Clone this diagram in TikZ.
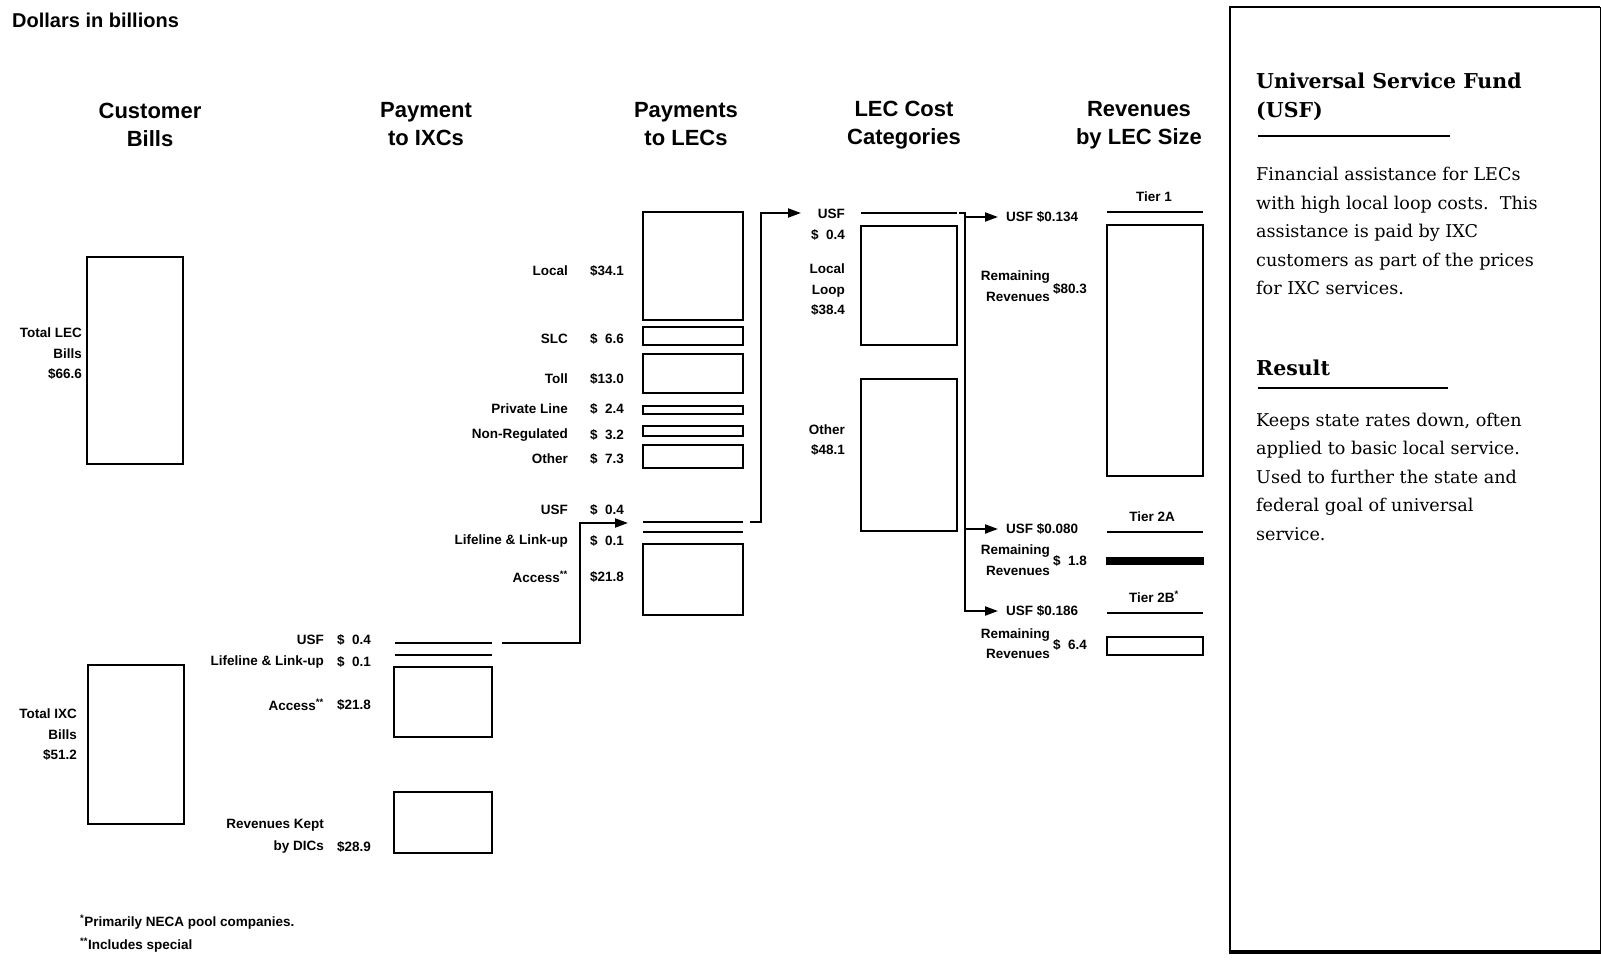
\documentclass[tikz,border=0pt]{standalone}
\usepackage{fontspec}
\setmainfont{Liberation Sans}
\newfontfamily\notefont{DejaVu Serif}
\usetikzlibrary{arrows.meta}

\newcommand{\lblfont}{\bfseries\fontsize{13.5}{20.5}\selectfont}
\newcommand{\hdrfont}{\bfseries\fontsize{22}{28}\selectfont}
\newcommand{\dsp}{\hphantom{0}}

\begin{document}
\begin{tikzpicture}[x=1pt, y=-1pt,
    hdr/.style={font=\hdrfont, align=center, inner sep=0pt},
    lbl/.style={font=\lblfont, align=right, anchor=east, inner sep=0pt},
    val/.style={font=\lblfont, anchor=west, inner sep=0pt},
    tier/.style={font=\lblfont, inner sep=0pt},
    bar/.style={draw, line width=2.6pt, inner sep=0pt, minimum width=96pt},
    rule/.style={line width=2.6pt},
    flow/.style={line width=2pt, -{Triangle[length=13pt,width=9pt]}},
    notehead/.style={font=\notefont\bfseries\fontsize{20.5}{29}\selectfont, align=left, anchor=west, inner sep=0pt},
    notebody/.style={font=\notefont\fontsize{17.6}{28.5}\selectfont, align=left, anchor=west, inner sep=0pt}]

    \useasboundingbox (0,0) rectangle (1601,959);

    % Title and column heads
    \node[font=\bfseries\fontsize{20}{24}\selectfont, anchor=west, inner sep=0pt] (unit) at (12,20) {Dollars in billions};
    \node[hdr] (hbills) at (150,125) {Customer\\Bills};
    \node[hdr] (hixc)   at (426,124) {Payment\\to IXCs};
    \node[hdr] (hlec)   at (686,124) {Payments\\to LECs};
    \node[hdr] (hcost)  at (904,125) {LEC Cost\\Categories};
    \node[hdr] (hsize)  at (1139,125) {Revenues\\by LEC Size};

    % Customer bills
    \node[bar, minimum height=207pt] (lecbill) at (135,360.5) {};
    \node[lbl] (lecbilltxt) at (82,354) {Total LEC\\Bills\\\$66.6};
    \node[bar, minimum height=159pt] (ixcbill) at (136,744.5) {};
    \node[lbl] (ixcbilltxt) at (77,735) {Total IXC\\Bills\\\$51.2};

    % Payment to IXCs
    \coordinate (ixcusfL) at (395,643);
    \coordinate (ixcusfR) at (492,643);
    \draw[rule] (ixcusfL) -- (ixcusfR);
    \draw[rule] (395,655) -- (492,655);
    \node[bar, minimum width=98pt, minimum height=70pt] (ixcacc) at (443,702) {};
    \node[bar, minimum width=98pt, minimum height=61pt] (kept) at (443,822.5) {};
    \node[lbl] (ixcusftxt)  at (324,640) {USF};
    \node[lbl] (ixclifetxt) at (324,662) {Lifeline \& Link-up};
    \node[lbl] (ixcacctxt)  at (324,705) {Access\textsuperscript{**}};
    \node[lbl, font=\bfseries\fontsize{13.5}{22}\selectfont] (kepttxt) at (324,836) {Revenues Kept\\by DICs};
    \node[val] (ixcusfval)  at (337,640) {\$\dsp0.4};
    \node[val] (ixclifeval) at (337,662) {\$\dsp0.1};
    \node[val] (ixcaccval)  at (337,705) {\$21.8};
    \node[val] (keptval)    at (337,847) {\$28.9};

    % Payments to LECs
    \node[bar, minimum width=100pt, minimum height=108pt] (local)  at (693,266) {};
    \node[bar, minimum width=100pt, minimum height=18pt]  (slc)    at (693,336) {};
    \node[bar, minimum width=100pt, minimum height=39pt]  (toll)   at (693,373.5) {};
    \node[bar, minimum width=100pt, minimum height=8pt]   (pline)  at (693,410) {};
    \node[bar, minimum width=100pt, minimum height=10pt]  (nonreg) at (693,431) {};
    \node[bar, minimum width=100pt, minimum height=23pt]  (other)  at (693,456.5) {};
    \coordinate (lecusfL) at (643,522);
    \coordinate (lecusfR) at (743,522);
    \draw[rule] (lecusfL) -- (lecusfR);
    \draw[rule] (643,532) -- (743,532);
    \node[bar, minimum width=100pt, minimum height=71pt]  (lecacc) at (693,579.5) {};

    \node[lbl] (localtxt)  at (568,271) {Local};
    \node[lbl] (slctxt)    at (568,339) {SLC};
    \node[lbl] (tolltxt)   at (568,379) {Toll};
    \node[lbl] (plinetxt)  at (568,409) {Private Line};
    \node[lbl] (nonregtxt) at (568,435) {Non-Regulated};
    \node[lbl] (othertxt)  at (568,459) {Other};
    \node[lbl] (lecusftxt) at (568,510) {USF};
    \node[lbl] (leclifetxt) at (568,541) {Lifeline \& Link-up};
    \node[lbl] (lecacctxt) at (568,577) {Access\textsuperscript{**}};

    \node[val] (localval)  at (590,271) {\$34.1};
    \node[val] (slcval)    at (590,339) {\$\dsp6.6};
    \node[val] (tollval)   at (590,379) {\$13.0};
    \node[val] (plineval)  at (590,409) {\$\dsp2.4};
    \node[val] (nonregval) at (590,435) {\$\dsp3.2};
    \node[val] (otherval)  at (590,459) {\$\dsp7.3};
    \node[val] (lecusfval) at (590,510) {\$\dsp0.4};
    \node[val] (leclifeval) at (590,541) {\$\dsp0.1};
    \node[val] (lecaccval) at (590,577) {\$21.8};

    % LEC cost categories
    \coordinate (cusfL) at (861,213);
    \coordinate (cusfR) at (957,213);
    \draw[rule] (cusfL) -- (cusfR);
    \node[bar, minimum height=119pt] (loop)      at (909,285.5) {};
    \node[bar, minimum height=152pt] (othercost) at (909,455) {};
    \node[lbl] (cusftxt)      at (845,225) {USF\\\$\dsp0.4};
    \node[lbl] (looptxt)      at (845,290) {Local\\Loop\\\$38.4};
    \node[lbl] (othercosttxt) at (845,440) {Other\\\$48.1};

    % Revenues by LEC size
    \node[tier] (tier1) at (1154,197) {Tier 1};
    \draw[rule] (1107,212) -- (1203,212);
    \node[bar, minimum height=251pt] (t1box) at (1155,350.5) {};
    \node[val] (t1usf) at (1006,217) {USF \$0.134};
    \node[lbl, font=\bfseries\fontsize{13.5}{21}\selectfont] (t1rem) at (1050,286.5) {Remaining\\Revenues};
    \node[val] (t1val) at (1053,289) {\$80.3};

    \node[tier] (tier2a) at (1152,517) {Tier 2A};
    \draw[rule] (1107,532) -- (1203,532);
    \node[bar, fill, minimum height=5pt] (t2abar) at (1155,561) {};
    \node[val] (t2ausf) at (1006,529) {USF \$0.080};
    \node[lbl, font=\bfseries\fontsize{13.5}{21}\selectfont] (t2arem) at (1050,560) {Remaining\\Revenues};
    \node[val] (t2aval) at (1053,561) {\$\dsp1.8};

    \node[tier] (tier2b) at (1154,597) {Tier 2B\textsuperscript{*}};
    \draw[rule] (1107,613) -- (1203,613);
    \node[bar, minimum height=18pt] (t2bbox) at (1155,646) {};
    \node[val] (t2busf) at (1006,611) {USF \$0.186};
    \node[lbl, font=\bfseries\fontsize{13.5}{20}\selectfont] (t2brem) at (1050,644) {Remaining\\Revenues};
    \node[val] (t2bval) at (1053,645) {\$\dsp6.4};

    % Flows
    \coordinate (tip1) at (628,523);
    \coordinate (tip2) at (801,213);
    \coordinate (trunk) at (965,213);
    \coordinate (tip3) at (998,217);
    \coordinate (tip4) at (998,529);
    \coordinate (tip5) at (998,611);
    \draw[flow] ([xshift=10pt]ixcusfR) -| ([xshift=-48pt]tip1) -- (tip1);
    \draw[flow] ([xshift=7pt]lecusfR) -| ([xshift=-40pt]tip2) -- (tip2);
    \draw[flow] ([xshift=2pt]cusfR) -| (tip5 -| trunk) -- (tip5);
    \draw[flow] (tip3 -| trunk) -- (tip3);
    \draw[flow] (tip4 -| trunk) -- (tip4);

    % Footnotes
    \node[val] (note1) at (80,922) {\textsuperscript{*}Primarily NECA pool companies.};
    \node[val] (note2) at (80,945) {\textsuperscript{**}Includes special};

    % Side panel
    \draw[line width=2.6pt] (1600,7) -- (1230,7) -- (1230,952);
    \draw[line width=3.6pt] (1228.7,952) -- (1601,952);
    \draw[line width=1pt] (1600,7) -- (1600,952);
    \node[notehead] (usfhead) at (1256,96.5) {Universal Service Fund\\(USF)};
    \draw[line width=1.5pt] (1258,136) -- (1450,136);
    \node[notebody] (usfbody) at (1256,231) {Financial assistance for LECs\\with high local loop costs.\ \ This\\assistance is paid by IXC\\customers as part of the prices\\for IXC services.};
    \node[notehead] (reshead) at (1256,368) {Result};
    \draw[line width=1.5pt] (1258,388) -- (1448,388);
    \node[notebody] (resbody) at (1256,476.5) {Keeps state rates down, often\\applied to basic local service.\\Used to further the state and\\federal goal of universal\\service.};
\end{tikzpicture}
\end{document}
